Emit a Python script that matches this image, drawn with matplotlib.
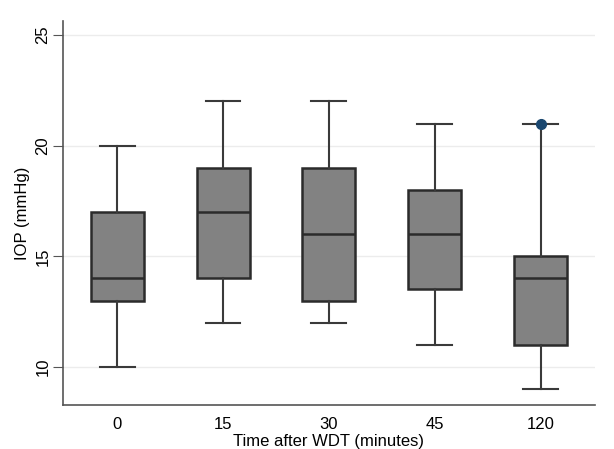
import matplotlib
matplotlib.use("Agg")
import matplotlib.pyplot as plt

# IOP box plot data
times = ["0", "15", "30", "45", "120"]
whislo = [10, 12, 12, 11, 9]
q1 = [13, 14, 13, 13.5, 11]
med = [14, 17, 16, 16, 14]
q3 = [17, 19, 19, 18, 15]
whishi = [20, 22, 22, 21, 21]
fliers = [[], [], [], [], [21]]

plt.rcParams["font.family"] = ["Liberation Sans", "DejaVu Sans"]

fig = plt.figure(figsize=(6.14, 4.49), dpi=100)
ax = fig.add_axes([0.1026, 0.098, 0.8664, 0.855])

stats = []
for i, t in enumerate(times):
    stats.append({"label": t, "whislo": whislo[i], "q1": q1[i], "med": med[i],
                  "q3": q3[i], "whishi": whishi[i], "fliers": fliers[i]})

ax.bxp(stats, positions=range(len(times)), widths=0.5, patch_artist=True,
       boxprops=dict(facecolor="#828282", edgecolor="#2b2b2b", linewidth=1.8),
       medianprops=dict(color="#2b2b2b", linewidth=1.8),
       whiskerprops=dict(color="#3a3a3a", linewidth=1.5),
       capprops=dict(color="#3a3a3a", linewidth=1.5),
       capwidths=0.33,
       flierprops=dict(marker="o", markerfacecolor="#1a476f", markeredgecolor="#1a476f",
                       markersize=7),
       zorder=3)

ax.set_xlim(-0.51, 4.51)
ax.set_ylim(8.28, 25.63)
ax.set_yticks([10, 15, 20, 25])
ax.grid(axis="y", color="#ececec", linewidth=1.0, zorder=0)
ax.set_axisbelow(True)

for s in ["top", "right"]:
    ax.spines[s].set_visible(False)
for s in ["left", "bottom"]:
    ax.spines[s].set_color("#555555")
    ax.spines[s].set_linewidth(1.2)

ax.tick_params(axis="y", length=7, color="#555555", labelsize=12, labelrotation=90, pad=2)
ax.tick_params(axis="x", length=0, labelsize=12, pad=9)
for lbl in ax.get_yticklabels():
    lbl.set_va("center")

ax.set_xlabel("Time after WDT (minutes)", fontsize=12, labelpad=1)
ax.set_ylabel("IOP (mmHg)", fontsize=12, labelpad=4)

fig.savefig("out.png", dpi=100, facecolor="white")
